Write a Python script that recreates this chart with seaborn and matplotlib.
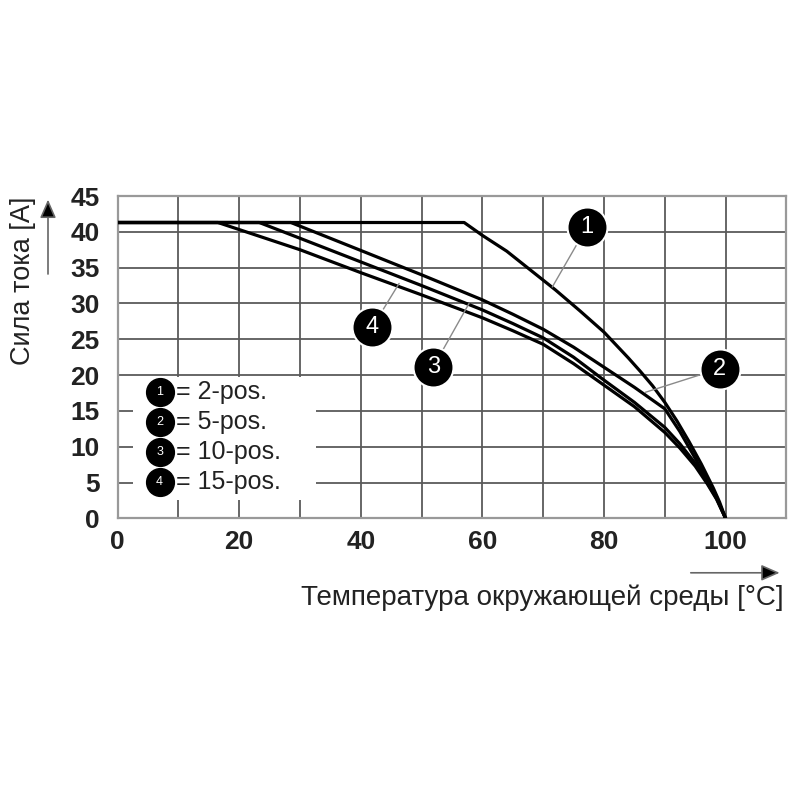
import numpy as np
import pandas as pd
import matplotlib
matplotlib.use('Agg')
import matplotlib.pyplot as plt
import seaborn as sns

# Кривые снижения нагрузки
t1 = [0, 57, 60, 64, 68, 72, 76, 80, 84, 86, 88, 90, 92, 94, 96, 98, 99, 100]
i1 = [41.3, 41.3, 39.5, 37.3, 34.6, 31.9, 29.0, 26.0, 22.4, 20.5, 18.5, 16.2, 13.6, 10.7, 7.6, 4.2, 2.3, 0]

t2 = [0, 28.5, 40, 50, 60, 65, 70, 75, 80, 85, 90, 92.5, 95, 97, 98.5, 100]
i2 = [41.3, 41.3, 37.4, 34.0, 30.5, 28.5, 26.4, 23.9, 21.1, 18.3, 15.3, 12.1, 8.4, 5.3, 3.0, 0]

t3 = [0, 23.3, 30, 40, 50, 60, 65, 70, 75, 80, 85, 90, 92.5, 95, 97, 98.5, 100]
i3 = [41.3, 41.3, 39.1, 35.8, 32.5, 29.1, 27.2, 25.2, 22.5, 19.3, 16.2, 12.7, 10.4, 7.7, 5.0, 2.8, 0]

t4 = [0, 16.5, 30, 40, 50, 60, 65, 70, 75, 80, 85, 90, 92.5, 95, 97, 98.5, 100]
i4 = [41.3, 41.3, 37.5, 34.3, 31.2, 28.0, 26.2, 24.3, 21.6, 18.6, 15.6, 12.0, 9.8, 7.3, 4.8, 2.7, 0]

nums = ['1', '2', '3', '4']
legend_text = ['= 2-pos.', '= 5-pos.', '= 10-pos.', '= 15-pos.']
# положение кружков-номеров и точки, куда указывают выноски
badge_x = [77.2, 99.0, 51.9, 41.9]
badge_y = [40.7, 20.9, 21.1, 26.7]
lead_x = [71.5, 86.8, 57.8, 46.3]
lead_y = [32.3, 17.6, 30.0, 32.8]

x_ticks = list(range(0, 111, 10))
x_labels = ['0', '', '20', '', '40', '', '60', '', '80', '', '100', '']
y_ticks = list(range(0, 46, 5))

sns.set_theme(style='white')
plt.rcParams['font.family'] = ['Liberation Sans', 'DejaVu Sans']

fig = plt.figure(figsize=(8, 8), dpi=100)
ax = fig.add_axes([0.147, 0.352, 0.836, 0.403])

for t, i in [(t1, i1), (t2, i2), (t3, i3), (t4, i4)]:
    sns.lineplot(x=t, y=i, color='black', linewidth=2.3, estimator=None,
                 sort=False, ax=ax, zorder=3)

ax.set_xlim(0, 110)
ax.set_ylim(0, 45)
ax.set_xticks(x_ticks)
ax.set_xticklabels(x_labels)
ax.set_yticks(y_ticks)
ax.set_yticklabels([str(v) for v in y_ticks])
ax.tick_params(length=0, labelsize=19, colors='#222')
ax.tick_params(axis='x', pad=8)
ax.tick_params(axis='y', pad=13)
for lab in ax.get_xticklabels() + ax.get_yticklabels():
    lab.set_fontweight('bold')
ax.set_axisbelow(True)
ax.grid(True, color='#5a5a5a', linewidth=1.3)
for sp in ax.spines.values():
    sp.set_color('#999999')
    sp.set_linewidth(1.6)
ax.set_xlabel('')
ax.set_ylabel('')

# белая подложка под легенду
ax.add_patch(plt.Rectangle((2.5, 2.6), 30.2, 17.2, facecolor='white',
                           edgecolor='none', zorder=1))
leg_y = [17.7, 13.5, 9.3, 5.1]
ax.scatter([6.9] * 4, leg_y, s=400, color='black', zorder=4)
for n, txt, y in zip(nums, legend_text, leg_y):
    ax.text(6.9, y, n, color='white', fontsize=9, ha='center', va='center', zorder=5)
    ax.text(9.6, y, txt, color='#222', fontsize=18, ha='left', va='center', zorder=5)

# выноски с номерами
for n, bx, by, lx, ly in zip(nums, badge_x, badge_y, lead_x, lead_y):
    ax.plot([bx, lx], [by, ly], color='#8a8a8a', linewidth=1.0, zorder=4)
    ax.scatter([bx], [by], s=830, color='black', edgecolor='white',
               linewidth=1.5, zorder=6, clip_on=False)
    ax.text(bx, by, n, color='white', fontsize=17, ha='center', va='center', zorder=7)

# подписи осей со стрелками
fig.text(0.029, 0.754, 'Сила тока [A]', rotation=90, ha='center', va='top',
         fontsize=19.5, color='#222')
fig.patches.append(matplotlib.patches.FancyArrowPatch(
    (0.06, 0.654), (0.06, 0.754), transform=fig.transFigure,
    arrowstyle='-|>,head_length=0.8,head_width=0.35', mutation_scale=14,
    facecolor='black', edgecolor='#666', linewidth=1.2))
fig.text(0.979, 0.2525, 'Температура окружающей среды [°C]', ha='right',
         va='center', fontsize=20, color='#222')
fig.patches.append(matplotlib.patches.FancyArrowPatch(
    (0.86, 0.284), (0.978, 0.284), transform=fig.transFigure,
    arrowstyle='-|>,head_length=0.8,head_width=0.35', mutation_scale=14,
    facecolor='black', edgecolor='#666', linewidth=1.2))

fig.savefig('out.png', dpi=100, facecolor='white')
